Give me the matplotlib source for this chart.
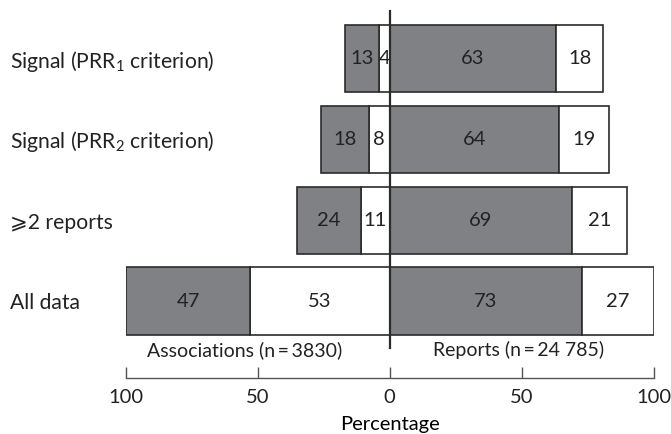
import matplotlib
matplotlib.use("Agg")
import matplotlib.pyplot as plt
import matplotlib.transforms as mtransforms

plt.rcParams.update({
    "font.family": ["Lato", "DejaVu Sans"],
    "mathtext.fontset": "custom",
    "mathtext.rm": "Lato",
    "mathtext.it": "Lato:italic",
    "mathtext.bf": "Lato:bold",
    "text.color": "#222222",
    "xtick.color": "#222222",
})

categories = ["Signal (PRR$_{\\mathrm{1}}$ criterion)",
              "Signal (PRR$_{\\mathrm{2}}$ criterion)",
              "\u2a7e2 reports",
              "All data"]
assoc_gray = [13, 18, 24, 47]
assoc_white = [4, 8, 11, 53]
report_gray = [63, 64, 69, 73]
report_white = [18, 19, 21, 27]
ticks = [-100, -50, 0, 50, 100]
tick_labels = ["100", "50", "0", "50", "100"]

GRAY = "#808184"
EDGE = "#2b2b2b"

fig = plt.figure(figsize=(6.71, 4.34), dpi=100)
ax = fig.add_axes([126 / 671, 56 / 434, 527.5 / 671, 367 / 434])

ypos = [3, 2, 1, 0]
h = 0.83
kw = dict(height=h, edgecolor=EDGE, linewidth=1.2)
for y, ag, aw, rg, rw in zip(ypos, assoc_gray, assoc_white, report_gray, report_white):
    ax.barh(y, -aw, left=0, color="white", **kw)
    ax.barh(y, -ag, left=-aw, color=GRAY, **kw)
    ax.barh(y, rg, left=0, color=GRAY, **kw)
    ax.barh(y, rw, left=rg, color="white", **kw)
    ax.text(-aw / 2, y, str(aw), ha="center", va="center", fontsize=14.5)
    ax.text(-aw - ag / 2, y, str(ag), ha="center", va="center", fontsize=14.5)
    ax.text(rg / 2, y, str(rg), ha="center", va="center", fontsize=14.5)
    ax.text(rg + rw / 2, y, str(rw), ha="center", va="center", fontsize=14.5)

ax.set_xlim(-100, 100)
ax.set_ylim(-0.953, 3.59)

# centre divider
ax.plot([0, 0], [-0.58, 3.59], color=EDGE, lw=1.6, zorder=5, clip_on=False)

trans = mtransforms.blended_transform_factory(fig.transFigure, ax.transData)
for y, lab in zip(ypos, categories):
    ax.text(10 / 671, y - 0.03, lab, transform=trans, ha="left", va="center",
            fontsize=15.2)

ax.text(-55, -0.61, "Associations (n\u2009=\u20093830)", ha="center", va="center",
        fontsize=14)
ax.text(49, -0.61, "Reports (n\u2009=\u200924 785)", ha="center", va="center",
        fontsize=14)

for s in ["top", "left", "right"]:
    ax.spines[s].set_visible(False)
ax.spines["bottom"].set_color("#555555")
ax.spines["bottom"].set_linewidth(1.0)
ax.set_yticks([])
ax.set_xticks(ticks)
ax.set_xticklabels(tick_labels, fontsize=14.5)
ax.tick_params(axis="x", direction="in", length=8, width=1.0, color="#555555", pad=8)
ax.set_xlabel("Percentage", fontsize=14.5, labelpad=7)

fig.savefig("out.png", dpi=100)
